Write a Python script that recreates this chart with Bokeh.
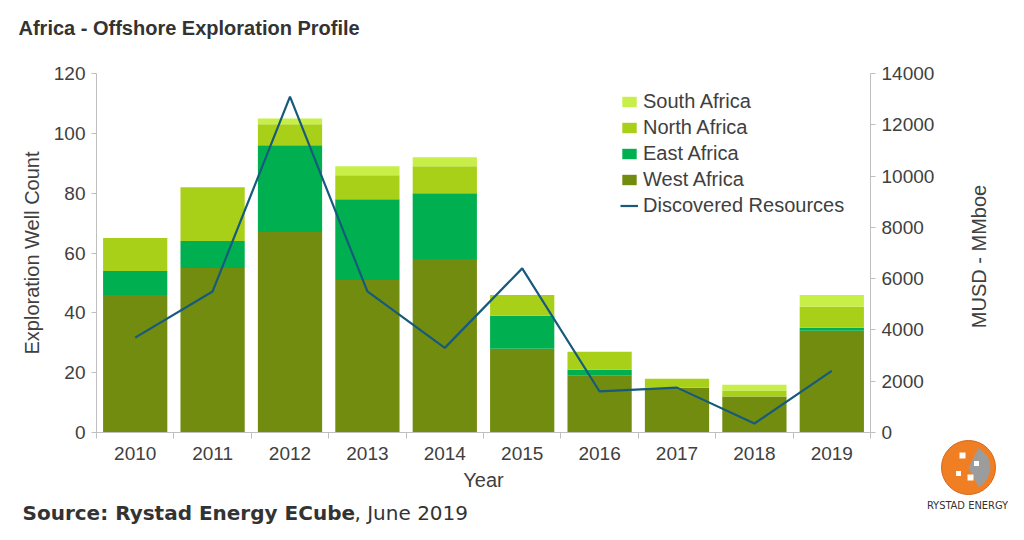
import math
from bokeh.plotting import figure
from bokeh.layouts import column, row
from bokeh.models import (ColumnDataSource, Range1d, LinearAxis, FixedTicker, Label, Legend, LegendItem)
from bokeh.embed import file_html
from bokeh.resources import INLINE

years = ["2010", "2011", "2012", "2013", "2014", "2015", "2016", "2017", "2018", "2019"]
west = [46, 55, 67, 51, 58, 28, 19, 15, 12, 34]
east = [8, 9, 29, 27, 22, 11, 2, 0, 0, 1]
north = [11, 18, 7, 8, 9, 7, 6, 3, 2, 7]
south = [0, 0, 2, 3, 3, 0, 0, 0, 2, 4]
discovered = [3700, 5500, 13100, 5500, 3300, 6400, 1600, 1750, 350, 2400]

series_names = ["West Africa", "East Africa", "North Africa", "South Africa"]
series_vals = [west, east, north, south]
colors = ["#718C0F", "#00B050", "#A9D018", "#C8EE48"]
line_color = "#175A7D"
text_color = "#404040"
FONT = "Liberation Sans"

W = 1008
HEAD_H, MID_H, FOOT_H = 45, 455, 24
MAIN_W = 940
xpos = list(range(len(years)))


def blank(w, h):
    f = figure(width=w, height=h, output_backend="svg", toolbar_location=None,
               x_range=Range1d(0, w), y_range=Range1d(h, 0),
               x_axis_type=None, y_axis_type=None,
               min_border_left=0, min_border_right=0, min_border_top=0, min_border_bottom=0)
    f.outline_line_color = None
    f.grid.visible = False
    f.frame_align = False
    return f


# ---------- header ----------
head = blank(W, HEAD_H)
head.add_layout(Label(x=18, y=27, text="Africa - Offshore Exploration Profile",
                      text_font=FONT, text_font_size="20px", text_font_style="bold",
                      text_color="#333333", text_baseline="middle"))

# ---------- main chart ----------
p = figure(width=MAIN_W, height=MID_H, output_backend="svg", toolbar_location=None,
           x_range=Range1d(-0.5, len(years) - 0.5), y_range=Range1d(0, 120),
           min_border_left=96, min_border_right=MAIN_W - 870, min_border_top=73 - HEAD_H,
           min_border_bottom=HEAD_H + MID_H - 432)
p.outline_line_color = None
p.xgrid.grid_line_color = None
p.ygrid.grid_line_color = None
p.extra_y_ranges = {"res": Range1d(0, 14000)}

bottoms = [0] * len(years)
renderers = []
for name, vals, col in zip(series_names, series_vals, colors):
    tops = [b + v for b, v in zip(bottoms, vals)]
    src = ColumnDataSource(dict(x=xpos, bottom=bottoms, top=tops))
    r = p.vbar(x="x", bottom="bottom", top="top", width=0.83, source=src,
               fill_color=col, line_color=None)
    renderers.append(r)
    bottoms = tops

lsrc = ColumnDataSource(dict(x=xpos, y=discovered))
lr = p.line(x="x", y="y", source=lsrc, line_color=line_color, line_width=2.2, y_range_name="res")

xa = p.xaxis[0]
xa.ticker = FixedTicker(ticks=xpos, minor_ticks=[i - 0.5 for i in range(len(years) + 1)])
xa.major_label_overrides = {i: y for i, y in enumerate(years)}
xa.major_tick_out = 0
xa.major_tick_in = 0
xa.minor_tick_out = 6
xa.minor_tick_in = 0
xa.minor_tick_line_color = "#BFBFBF"
xa.axis_line_color = "#BFBFBF"
xa.axis_label = "Year"

ya = p.yaxis[0]
ya.ticker = FixedTicker(ticks=list(range(0, 121, 20)))
ya.axis_label = "Exploration Well Count"
ya.major_tick_out = 5
ya.major_tick_in = 0
ya.minor_tick_line_color = None
ya.axis_line_color = "#BFBFBF"
ya.major_tick_line_color = "#BFBFBF"

ra = LinearAxis(y_range_name="res", ticker=FixedTicker(ticks=list(range(0, 14001, 2000))))
ra.major_tick_out = 5
ra.major_tick_in = 0
ra.minor_tick_line_color = None
ra.axis_line_color = "#BFBFBF"
ra.major_tick_line_color = "#BFBFBF"
p.add_layout(ra, "right")

for ax in [xa, ya, ra]:
    ax.major_label_text_font = FONT
    ax.major_label_text_font_size = "19px"
    ax.major_label_text_color = text_color
    ax.axis_label_text_font = FONT
    ax.axis_label_text_font_size = "20px"
    ax.axis_label_text_font_style = "normal"
    ax.axis_label_text_color = text_color
xa.major_label_standoff = 8
xa.axis_label_standoff = 6
ya.major_label_standoff = 6
ya.axis_label_standoff = 8
ra.major_label_standoff = 6

legend = Legend(items=[
    LegendItem(label="South Africa", renderers=[renderers[3]]),
    LegendItem(label="North Africa", renderers=[renderers[2]]),
    LegendItem(label="East Africa", renderers=[renderers[1]]),
    LegendItem(label="West Africa", renderers=[renderers[0]]),
    LegendItem(label="Discovered Resources", renderers=[lr]),
], location=(524, 215))
legend.background_fill_alpha = 0
legend.border_line_color = None
legend.label_text_font = FONT
legend.label_text_font_size = "20px"
legend.label_text_color = text_color
legend.glyph_width = 18
legend.glyph_height = 13
legend.label_height = 20
legend.spacing = 3
legend.label_standoff = 5
legend.padding = 0
legend.margin = 0
p.add_layout(legend, "center")

# ---------- right side: axis title + logo ----------
side = blank(W - MAIN_W, MID_H)
side.add_layout(Label(x=38, y=211, text="MUSD - MMboe", text_font=FONT, text_font_size="20px",
                      text_color=text_color, text_align="center", text_baseline="middle",
                      angle=math.pi / 2))
side.circle(x=[28], y=[422], radius=27, fill_color="#EF7F22", line_color="#D9661A", line_width=1)
side.wedge(x=[28], y=[422], radius=22, start_angle=-1.1, end_angle=1.1,
           fill_color="#9C9C9C", line_color=None)
side.rect(x=[22, 36, 30, 18], y=[410, 418, 432, 428], width=[6, 5, 6, 5], height=[6, 5, 6, 5],
          fill_color="white", line_color=None)

# ---------- footer ----------
foot = blank(W, FOOT_H)
foot.add_layout(Label(x=22, y=12, text="Source: Rystad Energy ECube",
                      text_font="DejaVu Sans", text_font_size="20px", text_font_style="bold",
                      text_color="#333333", text_baseline="middle"))
foot.add_layout(Label(x=354, y=12, text=", June 2019",
                      text_font="DejaVu Sans", text_font_size="20px",
                      text_color="#333333", text_baseline="middle"))
foot.add_layout(Label(x=967, y=5, text="RYSTAD ENERGY", text_font="DejaVu Sans Condensed",
                      text_font_size="11px", text_color="#333333",
                      text_align="center", text_baseline="middle"))

layout = column(head, row(p, side, spacing=0), foot, spacing=0)
open("out.html", "w").write(file_html(layout, INLINE))
